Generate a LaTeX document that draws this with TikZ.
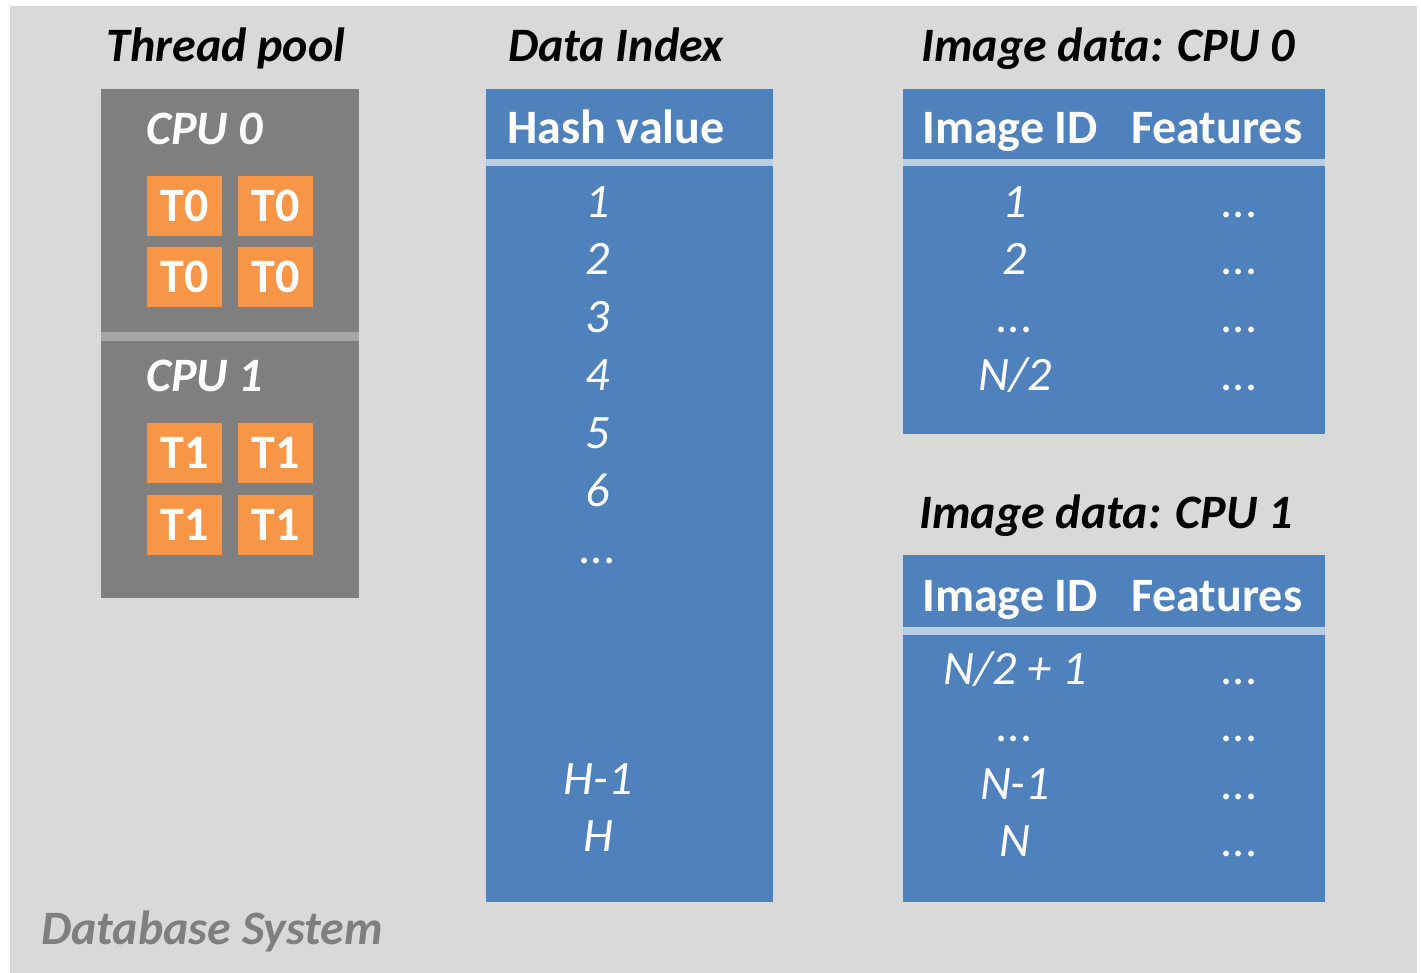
\documentclass[tikz,border=0pt]{standalone}
\usepackage{fontspec}
\setmainfont{Carlito}
\definecolor{bgG}{HTML}{D9D9D9}
\definecolor{poolG}{HTML}{7F7F7F}
\definecolor{sepG}{HTML}{A6A6A6}
\definecolor{tabB}{HTML}{4F81BD}
\definecolor{sepB}{HTML}{B9CDE5}
\definecolor{thrO}{HTML}{F79646}
\definecolor{dbG}{HTML}{7F7F7F}
\tikzset{
  title/.style={font=\fontsize{48}{52}\selectfont\bfseries\itshape, text=black, inner sep=0pt, anchor=base},
  hdr/.style={font=\fontsize{48}{52}\selectfont\bfseries, text=white, inner sep=0pt, anchor=base west},
  cpulbl/.style={font=\fontsize{48}{52}\selectfont\bfseries\itshape, text=white, inner sep=0pt, anchor=base west},
  entry/.style={font=\fontsize{48}{52}\selectfont\itshape, text=white, inner sep=0pt, anchor=base},
  thr/.style={fill=thrO, minimum width=75pt, minimum height=60pt, inner sep=0pt, anchor=north west, text=white, font=\fontsize{48}{52}\selectfont\bfseries},
}
\begin{document}
\begin{tikzpicture}[x=1pt,y=-1pt]
\useasboundingbox (0,0) rectangle (1421,973);
\fill[white] (0,0) rectangle (1421,973);
\fill[bgG] (10,6) rectangle (1417,973);
% Thread pool
\node[title] (tpT) at (226,62) {Thread pool};
\fill[poolG] (101,89) rectangle (359,598);
\fill[sepG] (101,332) rectangle (359,341);
\node[cpulbl] (cpu0) at (146,145) {CPU 0};
\node[cpulbl] (cpu1) at (146,391) {CPU 1};
\node[thr] (t00) at (147,176) {T0};
\node[thr] (t01) at (238,176) {T0};
\node[thr] (t02) at (147,247) {T0};
\node[thr] (t03) at (238,247) {T0};
\node[thr] (t10) at (147,423) {T1};
\node[thr] (t11) at (238,423) {T1};
\node[thr] (t12) at (147,495) {T1};
\node[thr] (t13) at (238,495) {T1};
% Data index
\node[title] (diT) at (616,62) {Data Index};
\fill[tabB] (486,89) rectangle (773,902);
\fill[sepB] (486,159) rectangle (773,166);
\node[hdr] (hv) at (507,144) {Hash value};
\node[entry] (h1) at (598,218) {1};
\node[entry] (h2) at (598,275) {2};
\node[entry] (h3) at (598,333) {3};
\node[entry] (h4) at (598,390) {4};
\node[entry] (h5) at (598,448) {5};
\node[entry] (h6) at (598,506) {6};
\node[entry] (hd) at (598,563) {...};
\node[entry] (hH1) at (598,794) {H-1};
\node[entry] (hH) at (598,851) {H};
% Image data CPU 0
\node[title] (i0T) at (1108,62) {Image data: CPU 0};
\fill[tabB] (903,89) rectangle (1325,434);
\fill[sepB] (903,159) rectangle (1325,166);
\node[hdr] (i0id) at (922,144) {Image ID};
\node[hdr] (i0f) at (1131,144) {Features};
\node[entry] (a1) at (1015,218) {1};
\node[entry] (a2) at (1015,275) {2};
\node[entry] (a3) at (1015,333) {...};
\node[entry] (a4) at (1015,390) {N/2};
\node[entry] (b1) at (1240,218) {...};
\node[entry] (b2) at (1240,275) {...};
\node[entry] (b3) at (1240,333) {...};
\node[entry] (b4) at (1240,390) {...};
% Image data CPU 1
\node[title] (i1T) at (1106,528) {Image data: CPU 1};
\fill[tabB] (903,555) rectangle (1325,902);
\fill[sepB] (903,627) rectangle (1325,635);
\node[hdr] (i1id) at (922,611) {Image ID};
\node[hdr] (i1f) at (1131,611) {Features};
\node[entry] (c1) at (1015,684) {N/2 + 1};
\node[entry] (c2) at (1015,741) {...};
\node[entry] (c3) at (1015,799) {N-1};
\node[entry] (c4) at (1015,856) {N};
\node[entry] (d1) at (1240,684) {...};
\node[entry] (d2) at (1240,741) {...};
\node[entry] (d3) at (1240,799) {...};
\node[entry] (d4) at (1240,856) {...};
% Label
\node[font=\fontsize{48}{52}\selectfont\bfseries\itshape, text=dbG, inner sep=0pt, anchor=base west] (db) at (41,944) {Database System};
\end{tikzpicture}
\end{document}
